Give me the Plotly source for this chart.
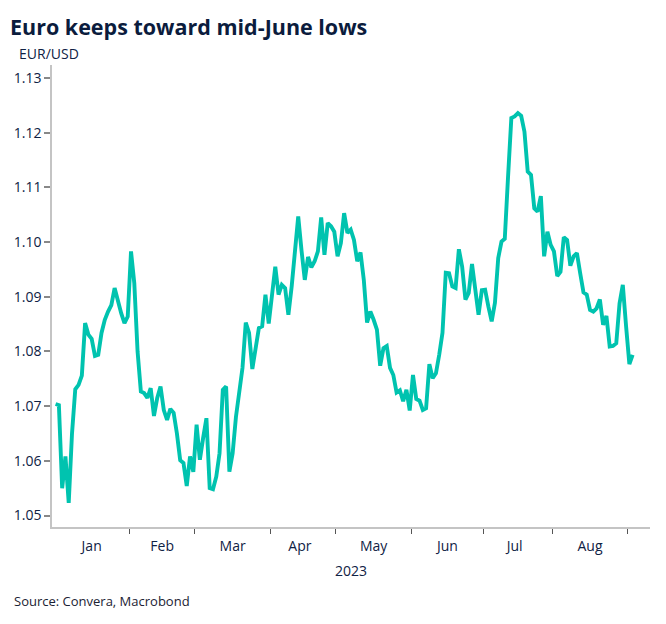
import pandas as pd
import plotly.graph_objects as go

# Business-day EUR/USD closes, 30 Dec 2022 .. 4 Sep 2023
start_date = "2022-12-30"
end_date = "2023-09-04"
eurusd = [
    1.0704, 1.0702, 1.0550, 1.0608, 1.0523, 1.0650, 1.0731, 1.0739, 1.0756, 1.0852,
    1.0831, 1.0823, 1.0792, 1.0794, 1.0834, 1.0858, 1.0873, 1.0885, 1.0916, 1.0890,
    1.0870, 1.0852, 1.0864, 1.0983, 1.0925, 1.0800, 1.0727, 1.0724, 1.0715, 1.0733,
    1.0682, 1.0715, 1.0736, 1.0693, 1.0675, 1.0695, 1.0688, 1.0650, 1.0601, 1.0596,
    1.0554, 1.0608, 1.0580, 1.0666, 1.0602, 1.0642, 1.0678, 1.0550, 1.0548, 1.0571,
    1.0614, 1.0730, 1.0736, 1.0580, 1.0614, 1.0680, 1.0725, 1.0770, 1.0853, 1.0834,
    1.0768, 1.0809, 1.0843, 1.0846, 1.0904, 1.0851, 1.0900, 1.0955, 1.0904, 1.0922,
    1.0916, 1.0867, 1.0919, 1.0990, 1.1047, 1.0985, 1.0931, 1.0973, 1.0954, 1.0965,
    1.0983, 1.1045, 1.0977, 1.1035, 1.1029, 1.1019, 1.0974, 1.0998, 1.1053, 1.1017,
    1.1023, 1.1004, 1.0965, 1.0981, 1.0931, 1.0853, 1.0873, 1.0858, 1.0840, 1.0774,
    1.0806, 1.0810, 1.0770, 1.0757, 1.0725, 1.0729, 1.0709, 1.0730, 1.0692, 1.0757,
    1.0713, 1.0710, 1.0693, 1.0696, 1.0777, 1.0751, 1.0760, 1.0794, 1.0834, 1.0944,
    1.0943, 1.0919, 1.0916, 1.0987, 1.0955, 1.0895, 1.0907, 1.0960, 1.0913, 1.0867,
    1.0912, 1.0913, 1.0882, 1.0855, 1.0889, 1.0971, 1.1001, 1.1006, 1.1120, 1.1227,
    1.1230, 1.1236, 1.1231, 1.1202, 1.1129, 1.1123, 1.1062, 1.1056, 1.1084, 1.0974,
    1.1019, 1.0995, 1.0983, 1.0938, 1.0946, 1.1009, 1.1004, 1.0957, 1.0974, 1.0980,
    1.0943, 1.0908, 1.0904, 1.0876, 1.0873, 1.0879, 1.0895, 1.0849, 1.0865, 1.0809,
    1.0810, 1.0815, 1.0888, 1.0922, 1.0846, 1.0777, 1.0794,
]
dates = pd.bdate_range(start_date, end_date) + pd.Timedelta(hours=12)

title_text = "Euro keeps toward mid-June lows"
unit_text = "EUR/USD"
year_text = "2023"
source_text = "Source: Convera, Macrobond"

navy = "#0f2244"
axis_gray = "#c4c4c4"
font_family = "Open Sans, Noto Sans, sans-serif"

fig = go.Figure()
fig.add_trace(go.Scatter(
    x=dates, y=eurusd, mode="lines",
    line=dict(color="#00C3AF", width=3.9),
    hoverinfo="x+y", showlegend=False,
))

fig.update_layout(
    width=666, height=624,
    margin=dict(l=52, r=16, t=65, b=97),
    paper_bgcolor="white", plot_bgcolor="white",
    font=dict(family=font_family, size=14, color=navy),
    title=dict(
        text="<b>" + title_text + "</b>",
        x=10 / 666, xanchor="left", xref="container",
        y=1 - 27 / 624, yanchor="middle", yref="container",
        font=dict(size=21.5, color="#0b1c3d", family=font_family),
    ),
    xaxis=dict(
        type="date",
        range=["2022-12-29 09:36", "2023-09-11 19:00"],
        rangebreaks=[dict(bounds=["sat", "mon"])],
        tick0="2023-01-01", dtick="M1",
        tickformat="%b", ticklabelmode="period",
        ticks="outside", ticklen=5, tickcolor="#555555", tickwidth=1,
        showline=True, linecolor=axis_gray, linewidth=1.5,
        showgrid=False, zeroline=False,
        tickfont=dict(size=14, color=navy),
        title=dict(text=year_text, font=dict(size=14, color=navy), standoff=13),
    ),
    yaxis=dict(
        range=[1.0479, 1.1324],
        tick0=1.05, dtick=0.01, tickformat=".2f",
        ticks="outside", ticklen=6, tickcolor="#888888", tickwidth=1.5,
        showline=True, linecolor=axis_gray, linewidth=1.5,
        showgrid=False, zeroline=False,
        tickfont=dict(size=14, color=navy),
    ),
    annotations=[
        dict(text=unit_text, xref="paper", yref="paper",
             x=(17 - 52) / 598, y=(527.3 - 53) / 462.3,
             xanchor="left", yanchor="middle", showarrow=False,
             font=dict(size=14, color=navy)),
        dict(text=source_text, xref="paper", yref="paper",
             x=(12 - 52) / 598, y=(527.3 - 601) / 462.3,
             xanchor="left", yanchor="middle", showarrow=False,
             font=dict(size=13, color="#1b2233")),
    ],
)

fig.write_html("out.html")
